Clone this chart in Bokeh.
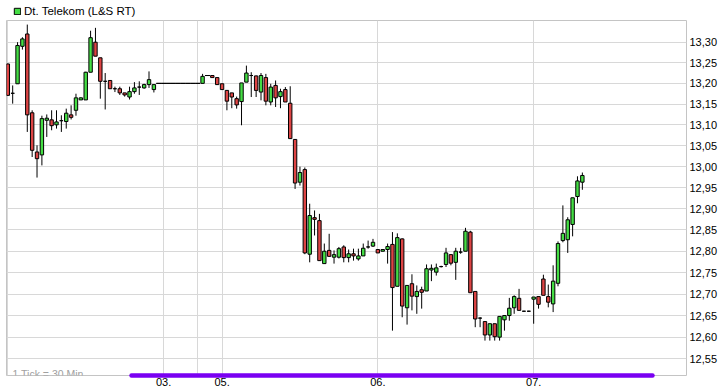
from bokeh.plotting import figure
from bokeh.layouts import column
from bokeh.models import (Range1d, FixedTicker, CustomJSTickFormatter, Label,
                          ColumnDataSource, Legend, LegendItem)
from bokeh.embed import file_html
from bokeh.resources import INLINE

# 30-minute candles, Dt. Telekom (L&S RT)
opens = [13.247, 13.176, 13.199, 13.290, 13.320, 13.129, 13.035, 13.028, 13.111, 13.112,
         13.100, 13.110, 13.108, 13.124, 13.135, 13.160, 13.160, 13.227, 13.300, 13.262,
         13.205, 13.207, 13.187, 13.187, 13.177, 13.167, 13.180, 13.191, 13.189, 13.197,
         13.185, 13.200, 13.200, 13.200, 13.200, 13.200, 13.200, 13.200, 13.200, 13.200,
         13.200, 13.219, 13.219, 13.214, 13.199, 13.183, 13.177, 13.163, 13.156, 13.203,
         13.219, 13.218, 13.179, 13.214, 13.155, 13.195, 13.168, 13.185, 13.152, 13.065,
         12.963, 12.993, 12.793, 12.879, 12.872, 12.771, 12.802, 12.786, 12.786, 12.810,
         12.785, 12.794, 12.782, 12.789, 12.810, 12.812, 12.804, 12.800, 12.804, 12.816,
         12.718, 12.829, 12.668, 12.724, 12.694, 12.710, 12.707, 12.756, 12.751, 12.764,
         12.769, 12.792, 12.774, 12.798, 12.800, 12.845, 12.706, 12.644, 12.636, 12.605,
         12.631, 12.600, 12.640, 12.650, 12.668, 12.690, 12.660, 12.660, 12.688, 12.694,
         12.735, 12.694, 12.677, 12.725, 12.825, 12.827, 12.863, 12.929, 12.963]
highs = [13.248, 13.195, 13.300, 13.312, 13.343, 13.135, 13.051, 13.122, 13.125, 13.135,
         13.135, 13.123, 13.139, 13.147, 13.175, 13.166, 13.228, 13.328, 13.335, 13.262,
         13.225, 13.207, 13.192, 13.192, 13.177, 13.192, 13.203, 13.205, 13.199, 13.229,
         13.197, 13.200, 13.200, 13.200, 13.200, 13.200, 13.200, 13.200, 13.200, 13.200,
         13.223, 13.219, 13.219, 13.214, 13.199, 13.183, 13.177, 13.168, 13.201, 13.243,
         13.227, 13.219, 13.225, 13.223, 13.199, 13.207, 13.187, 13.191, 13.193, 13.065,
         13.000, 12.998, 12.912, 12.896, 12.888, 12.818, 12.841, 12.802, 12.810, 12.814,
         12.804, 12.806, 12.806, 12.818, 12.825, 12.829, 12.804, 12.804, 12.818, 12.845,
         12.842, 12.830, 12.720, 12.746, 12.720, 12.717, 12.769, 12.769, 12.771, 12.766,
         12.808, 12.792, 12.808, 12.808, 12.855, 12.848, 12.706, 12.646, 12.636, 12.631,
         12.631, 12.648, 12.650, 12.691, 12.697, 12.712, 12.661, 12.661, 12.693, 12.694,
         12.745, 12.722, 12.767, 12.823, 12.908, 12.880, 12.926, 12.977, 12.986]
lows = [13.170, 13.151, 13.199, 13.282, 13.083, 13.023, 12.974, 13.003, 13.071, 13.087,
        13.091, 13.083, 13.091, 13.113, 13.122, 13.160, 13.160, 13.227, 13.266, 13.163,
        13.137, 13.187, 13.179, 13.172, 13.168, 13.161, 13.175, 13.172, 13.187, 13.189,
        13.178, 13.200, 13.200, 13.200, 13.200, 13.200, 13.200, 13.200, 13.200, 13.200,
        13.200, 13.219, 13.214, 13.197, 13.185, 13.135, 13.140, 13.139, 13.099, 13.203,
        13.167, 13.167, 13.159, 13.147, 13.147, 13.143, 13.140, 13.155, 13.066, 12.947,
        12.955, 12.793, 12.774, 12.837, 12.778, 12.771, 12.787, 12.771, 12.783, 12.774,
        12.774, 12.778, 12.778, 12.789, 12.806, 12.810, 12.796, 12.800, 12.771, 12.615,
        12.718, 12.646, 12.629, 12.662, 12.654, 12.666, 12.707, 12.730, 12.743, 12.762,
        12.763, 12.767, 12.733, 12.794, 12.800, 12.703, 12.623, 12.623, 12.592, 12.592,
        12.592, 12.592, 12.615, 12.638, 12.654, 12.662, 12.659, 12.659, 12.631, 12.666,
        12.697, 12.669, 12.658, 12.718, 12.821, 12.796, 12.835, 12.913, 12.945]
closes = [13.171, 13.176, 13.292, 13.308, 13.124, 13.039, 13.019, 13.115, 13.116, 13.098,
          13.107, 13.110, 13.128, 13.118, 13.165, 13.165, 13.227, 13.311, 13.266, 13.205,
          13.205, 13.187, 13.187, 13.177, 13.172, 13.180, 13.189, 13.191, 13.197, 13.209,
          13.197, 13.200, 13.200, 13.200, 13.200, 13.200, 13.200, 13.200, 13.200, 13.200,
          13.217, 13.219, 13.214, 13.197, 13.185, 13.157, 13.167, 13.148, 13.201, 13.225,
          13.219, 13.183, 13.219, 13.157, 13.191, 13.165, 13.180, 13.155, 13.067, 12.961,
          12.986, 12.796, 12.884, 12.875, 12.778, 12.800, 12.788, 12.792, 12.806, 12.785,
          12.794, 12.789, 12.789, 12.807, 12.810, 12.821, 12.796, 12.804, 12.811, 12.715,
          12.832, 12.672, 12.720, 12.695, 12.706, 12.704, 12.759, 12.760, 12.761, 12.764,
          12.796, 12.772, 12.800, 12.798, 12.847, 12.703, 12.642, 12.644, 12.605, 12.631,
          12.601, 12.648, 12.650, 12.667, 12.694, 12.662, 12.660, 12.660, 12.693, 12.676,
          12.697, 12.681, 12.730, 12.818, 12.842, 12.874, 12.926, 12.966, 12.979]

day_ticks = [32, 44, 76, 108]          # first candle of a labelled day
day_labels = ["03.", "05.", "06.", "07."]
day_grid = [0, 32, 39, 44, 76, 108]    # first candle of every day
y_ticks = [12.55, 12.60, 12.65, 12.70, 12.75, 12.80, 12.85, 12.90,
           12.95, 13.00, 13.05, 13.10, 13.15, 13.20, 13.25, 13.30]
y_tick_labels = ["12,55", "12,60", "12,65", "12,70", "12,75", "12,80", "12,85", "12,90",
                 "12,95", "13,00", "13,05", "13,10", "13,15", "13,20", "13,25", "13,30"]
series_name = "Dt. Telekom (L&S RT)"

UP = "#44dd44"
DOWN = "#dd4444"
FONT = "Liberation Sans"

n = len(opens)
idx = list(range(n))
src = ColumnDataSource(dict(
    x=idx,
    o=opens, h=highs, l=lows, c=closes,
    top=[max(a, b) for a, b in zip(opens, closes)],
    bot=[min(a, b) for a, b in zip(opens, closes)],
    col=[UP if b >= a else DOWN for a, b in zip(opens, closes)],
    w=[1.0 if hh == ll else 0.7 for hh, ll in zip(highs, lows)],
))
first_up = next(i for i, (a, b) in enumerate(zip(opens, closes)) if b > a)

# ---- main chart -------------------------------------------------------
p = figure(width=720, height=370, output_backend="svg", toolbar_location=None,
           y_axis_type="log", y_axis_location="right",
           x_range=Range1d(-0.27, 139.39), y_range=Range1d(12.5117, 13.353),
           min_border_left=6, min_border_right=33, min_border_top=0, min_border_bottom=15)
p.background_fill_color = "white"
p.border_fill_color = "white"
p.outline_line_color = "#c4c4c4"
p.outline_line_width = 1

p.yaxis.ticker = FixedTicker(ticks=y_ticks)
p.yaxis.formatter = CustomJSTickFormatter(
    args=dict(tvals=y_ticks, tlabels=y_tick_labels),
    code="""
    let best = 0, d = 1e9;
    for (let i = 0; i < tvals.length; i++) {
        const e = Math.abs(tvals[i] - tick);
        if (e < d) { d = e; best = i; }
    }
    return tlabels[best];
    """)
p.xaxis.ticker = FixedTicker(ticks=day_ticks)
p.xaxis.formatter = CustomJSTickFormatter(
    args=dict(dvals=day_ticks, dlabels=day_labels),
    code="""
    const i = dvals.indexOf(Math.round(tick));
    return i >= 0 ? dlabels[i] : '';
    """)
for ax in (p.xaxis[0], p.yaxis[0]):
    ax.major_tick_line_color = None
    ax.minor_tick_line_color = None
    ax.major_tick_out = 0
    ax.major_tick_in = 0
    ax.minor_tick_out = 0
    ax.major_label_text_font = FONT
    ax.major_label_text_font_size = "11px"
    ax.major_label_text_color = "#000000"
p.yaxis.axis_line_color = None
p.yaxis.major_label_standoff = 3
p.xaxis.major_label_standoff = 2
# the violet range bar along the bottom edge
p.xaxis.bounds = (25.4, 132.4)
p.xaxis.axis_line_color = "#7a00f2"
p.xaxis.axis_line_width = 4.5
p.xaxis.axis_line_cap = "round"

p.ygrid.grid_line_color = "#d8d8d8"
p.ygrid.minor_grid_line_color = None
p.xgrid.ticker = FixedTicker(ticks=day_grid)
p.xgrid.grid_line_color = "#d8d8d8"

p.segment(x0="x", y0="l", x1="x", y1="h", source=src, line_color="black", line_width=1)
p.vbar(x="x", top="top", bottom="bot", width="w", source=src,
       fill_color="col", line_color="black", line_width=1)

p.add_layout(Label(x=6, y=1.5, x_units="screen", y_units="screen",
                   text="1 Tick = 30 Min.", text_font=FONT,
                   text_font_size="10.5px", text_color="#a0a0a0",
                   text_baseline="alphabetic"))

# ---- header strip with the series legend ------------------------------
head = figure(width=720, height=20, output_backend="svg", toolbar_location=None,
              x_range=Range1d(0, 1), y_range=Range1d(100, 101),
              min_border_left=0, min_border_right=0, min_border_top=0, min_border_bottom=0)
head.axis.visible = False
head.grid.visible = False
head.outline_line_color = None
head.background_fill_color = "white"
head.border_fill_color = "white"
key = head.vbar(x="x", top="top", bottom="bot", width="w", source=src,
                fill_color="col", line_color="black", line_width=1, visible=False)
legend = Legend(items=[LegendItem(label=series_name, renderers=[key], index=first_up)],
                location=(7, 3), orientation="horizontal",
                glyph_width=8, glyph_height=8, label_standoff=3,
                padding=0, spacing=0, margin=0,
                border_line_color=None, background_fill_alpha=0,
                label_text_font=FONT, label_text_font_size="11.5px",
                label_text_color="#000000")
head.add_layout(legend)

layout = column(head, p, spacing=0, margin=(0, 0, 0, 0))
open("out.html", "w").write(file_html(layout, INLINE))
